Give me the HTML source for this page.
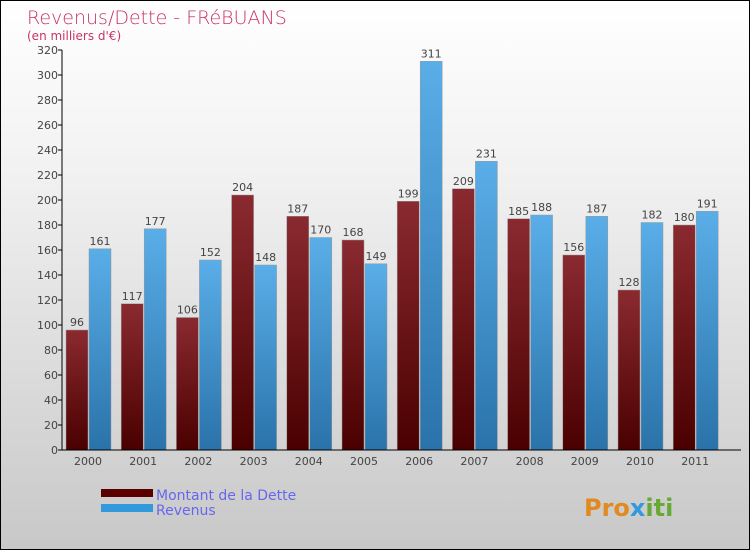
<!DOCTYPE html>
<html><head><meta charset="utf-8"><style>
body{margin:0}
#c{position:relative;width:748px;height:548px;border:1px solid #000;background:linear-gradient(#fff,#f2f2f2 30%,#c8c8c8);font-family:"DejaVu Sans","Liberation Sans",sans-serif;overflow:hidden}
</style></head><body>
<div id="c">
<svg id="s" width="748" height="548" style="position:absolute;left:0;top:0">
<defs>
<linearGradient id="gd" x1="0" y1="0" x2="0" y2="1"><stop offset="0" stop-color="#8a2a30"/><stop offset="1" stop-color="#4a0000"/></linearGradient>
<linearGradient id="gr" x1="0" y1="0" x2="0" y2="1"><stop offset="0" stop-color="#5aaee8"/><stop offset="1" stop-color="#2a72aa"/></linearGradient>
</defs>
<text x="26" y="23" font-size="19" fill="#c8336a" font-family="DejaVu Sans,sans-serif" font-weight="200">Revenus/Dette - FRéBUANS</text>
<text x="26" y="39" font-size="12" fill="#c8336a">(en milliers d'€)</text>
<g id="g"></g>
<rect x="100" y="488" width="52" height="8" fill="#5a0000"/>
<rect x="100" y="503" width="52" height="8" fill="#3399dd"/>
<text x="155" y="499" font-size="14" fill="#6666ee">Montant de la Dette</text>
<text x="155" y="514" font-size="14" fill="#6666ee">Revenus</text>
<text x="583" y="515" font-size="24" font-weight="bold" fill="#e08a20">Pro<tspan fill="#3399dd">x</tspan><tspan fill="#66aa33">iti</tspan></text>
</svg>
</div>
<script>
const years=["2000","2001","2002","2003","2004","2005","2006","2007","2008","2009","2010","2011"];
const dette=[96,117,106,204,187,168,199,209,185,156,128,180];
const revenus=[161,177,152,148,170,149,311,231,188,187,182,191];
const yTicks=[0,20,40,60,80,100,120,140,160,180,200,220,240,260,280,300,320];
const NS="http://www.w3.org/2000/svg";
const g=document.getElementById('g');
const y0=449,ppu=1.25,axX=61,x0=65,pitch=55.2,bw=22;
function Y(v){return y0-v*ppu}
function X(i){return x0+i*pitch}
function el(t,a){const e=document.createElementNS(NS,t);for(const k in a)e.setAttribute(k,a[k]);g.appendChild(e);return e}
yTicks.forEach(v=>{
 const t=el('line',{x1:axX-4,x2:axX,y1:Y(v),y2:Y(v),stroke:'#000'});
 
 
 const l=el('text',{x:axX-4,y:Y(v)+4,'font-size':11,'text-anchor':'end',fill:'#444'});
 l.textContent=v;
 
 
});
years.forEach((yr,i)=>{
 const xd=X(i),xr=X(i)+bw+1;
 const a=el('rect',{x:xd,y:Y(dette[i]),width:bw,height:dette[i]*ppu,fill:'url(#gd)',stroke:'#999','stroke-width':0.5});
 
 
 const b=el('rect',{x:xr,y:Y(revenus[i]),width:bw,height:revenus[i]*ppu,fill:'url(#gr)',stroke:'#999','stroke-width':0.5});
 
 
 const ld=el('text',{x:xd+bw/2,y:Y(dette[i])-4,'font-size':11,'text-anchor':'middle',fill:'#444'});
 ld.textContent=dette[i];
 
 
 const lr=el('text',{x:xr+bw/2,y:Y(revenus[i])-4,'font-size':11,'text-anchor':'middle',fill:'#444'});
 lr.textContent=revenus[i];
 
 
 const xl=el('text',{x:xd+bw,y:y0+15,'font-size':11,'text-anchor':'middle',fill:'#444'});
 xl.textContent=yr;
 
 
});
const ya=el('line',{x1:axX,x2:axX,y1:Y(320),y2:y0,stroke:'#000'});


const xa=el('line',{x1:axX,x2:740,y1:y0,y2:y0,stroke:'#000'});


</script>
</body></html>
